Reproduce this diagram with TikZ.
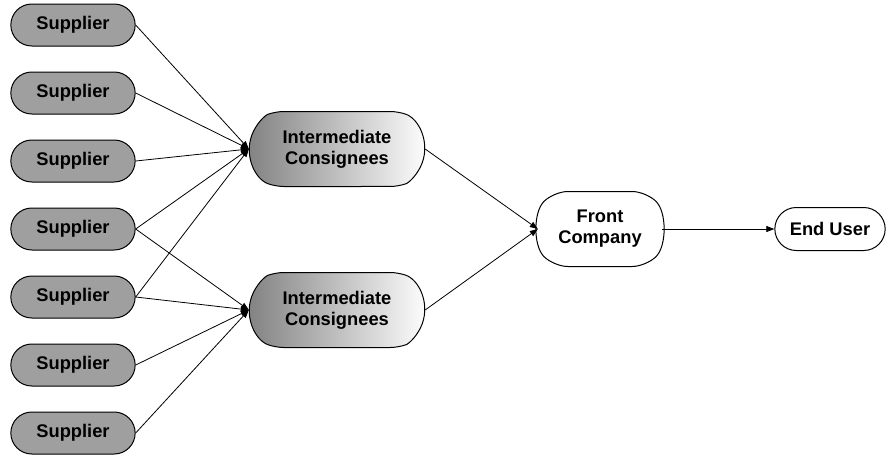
\documentclass[tikz,border=0pt]{standalone}
\usepackage{fontspec}
\setmainfont{Liberation Sans}
\usetikzlibrary{shapes.misc,arrows.meta}

\tikzset{
  box/.style={draw, rounded rectangle, line width=1pt, align=center,
    font=\bfseries\fontsize{18.3}{21}\selectfont},
  supplier/.style={box, fill=gray!75, minimum width=131pt, minimum height=42pt},
  consignee/.style={box, left color=gray!100, right color=white,
    rounded rectangle arc length=140, rounded corners=8pt,
    minimum width=182pt, minimum height=75pt},
  front/.style={box, fill=white, rounded rectangle arc length=90,
    rounded corners=14pt, minimum width=130pt, minimum height=75pt},
  enduser/.style={box, fill=white, minimum width=117pt, minimum height=43pt},
  link/.style={line width=0.8pt, -{Triangle[length=8pt,width=6pt]}}
}

\begin{document}
\begin{tikzpicture}[x=1pt,y=-1pt]
    \useasboundingbox (0,0) rectangle (890,455);
    \node[supplier] (s1) at (73,25) {Supplier};
    \node[supplier] (s2) at (73,93) {Supplier};
    \node[supplier] (s3) at (73,161) {Supplier};
    \node[supplier] (s4) at (73,229) {Supplier};
    \node[supplier] (s5) at (73,297) {Supplier};
    \node[supplier] (s6) at (73,365) {Supplier};
    \node[supplier] (s7) at (73,433) {Supplier};
    \node[consignee] (c1) at (337,149) {Intermediate\\Consignees};
    \node[consignee] (c2) at (337,310) {Intermediate\\Consignees};
    \node[front] (fc) at (600,229) {Front\\Company};
    \node[enduser] (eu) at (830,229) {End User};
    % suppliers to the first consignee
    \foreach \s in {s1,s2,s3,s4,s5}
      \draw[link] (\s.east) -- (c1.west);
    % suppliers to the second consignee
    \foreach \s in {s4,s5,s6,s7}
      \draw[link] (\s.east) -- (c2.west);
    \draw[link] (c1.east) -- (fc.west);
    \draw[link] (c2.east) -- (fc.west);
    \draw[link] (fc.east) -- (eu.west);
  \end{tikzpicture}
\end{document}
